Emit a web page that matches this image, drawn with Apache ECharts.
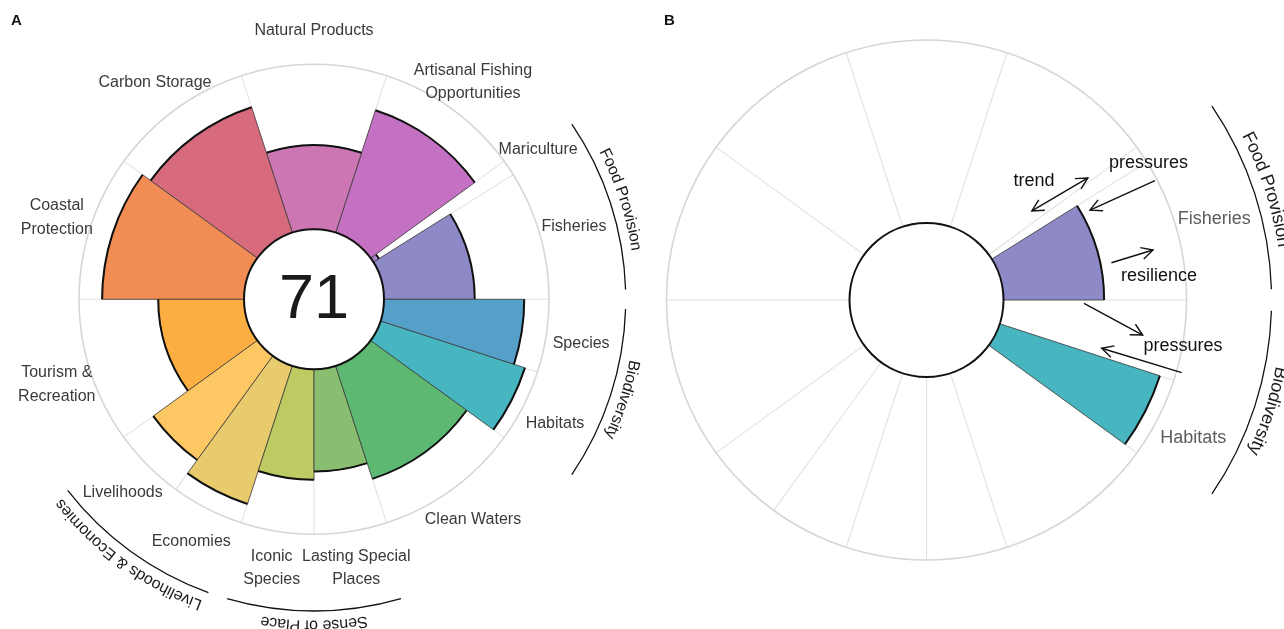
<!DOCTYPE html>
<html>
<head>
<meta charset="utf-8">
<script src="https://cdn.jsdelivr.net/npm/echarts@6/dist/echarts.min.js"></script>
<style>
  html, body { margin: 0; padding: 0; background: #ffffff; }
  #chart { width: 1284px; height: 629px; }
</style>
</head>
<body>
<div id="chart"></div>
<script>
// Goals in counter-clockwise order starting at 3 o'clock
const goals = ['Fisheries', 'Mariculture', 'Artisanal Fishing Opportunities', 'Natural Products',
  'Carbon Storage', 'Coastal Protection', 'Tourism & Recreation', 'Livelihoods', 'Economies',
  'Iconic Species', 'Lasting Special Places', 'Clean Waters', 'Habitats', 'Species'];
const goalLabels = ['Fisheries', 'Mariculture', 'Artisanal Fishing\nOpportunities', 'Natural Products',
  'Carbon Storage', 'Coastal\nProtection', 'Tourism &\nRecreation', 'Livelihoods', 'Economies',
  'Iconic\nSpecies', 'Lasting Special\nPlaces', 'Clean Waters', 'Habitats', 'Species'];
// Petal width = goal weight (sub-goals share their parent goal)
const weights = [0.89, 0.11, 1, 1, 1, 1, 1, 0.5, 0.5, 0.5, 0.5, 1, 0.5, 0.5];
const scores = [55, 4, 78, 51, 80, 86, 52, 78, 88, 67, 62, 72, 92, 85];
const petalColors = ['#8E89C7', '#A783C9', '#C471C3', '#CD76B4', '#D76A7D', '#F28C55', '#FDAE42',
  '#FDC763', '#E8CB6C', '#BECA62', '#89BD6F', '#5DB971', '#47B6C0', '#54A0C8'];
const indexScore = 71;

const groupNames = ['Food Provision', 'Livelihoods & Economies', 'Sense of Place', 'Biodiversity'];
const groupMembers = [['Fisheries', 'Mariculture'], ['Livelihoods', 'Economies'],
  ['Iconic Species', 'Lasting Special Places'], ['Habitats', 'Species']];

// Panel B: goals shown in the framework example
const highlighted = ['Fisheries', 'Habitats'];
const highlightedGroups = ['Food Provision', 'Biodiversity'];

const FONT = '"Liberation Sans", Arial, Helvetica, sans-serif';

// angular extent of each petal, in degrees along the angle axis
const totalW = weights.reduce((a, b) => a + b, 0);
const spans = [];
(function () {
  let acc = 0;
  weights.forEach(w => { spans.push([acc / totalW * 360, (acc + w) / totalW * 360]); acc += w; });
})();
const boundaries = spans.map(s => s[0]);

// annotation layout for panel B, in polar units [radius value, angle degrees]
const annoArrows = [
  { from: [33.3, 40.2], to: [68.5, 37.1], both: true },
  { from: [98.8, 27.6], to: [59.9, 28.8], both: false },
  { from: [61.0, 11.4], to: [84.7, 12.45], both: false },
  { from: [44.0, 358.8], to: [77.6, 350.8], both: false },
  { from: [102.9, 344.1], to: [57.2, 344.6], both: false }
];
const annoTexts = [
  { at: [45.6, 47.9], text: 'trend' },
  { at: [100.5, 31.7], text: 'pressures' },
  { at: [85.6, 5.9], text: 'resilience' },
  { at: [100.3, 349.8], text: 'pressures' }
];

const panels = [
  { polarIndex: 0, goals: goals.slice(), groups: groupNames.slice(), showIndex: true,
    labelSize: 16, labelColor: '#3a3a3a', lineHeight: 23.5, groupSize: 16, annotate: false },
  { polarIndex: 1, goals: highlighted, groups: highlightedGroups, showIndex: false,
    labelSize: 18, labelColor: '#5c5c5c', lineHeight: 26, groupSize: 18, annotate: true }
];

const measureCtx = document.createElement('canvas').getContext('2d');
function charWidths(str, font) {
  measureCtx.font = font;
  return Array.from(str).map(c => measureCtx.measureText(c).width);
}

// point at radius value v (can be outside 0..100) and angle deg of a polar system
function ringPoint(api, cs, v, deg) {
  const d = api.coord([100, deg]);
  const ux = d[0] - cs.cx, uy = d[1] - cs.cy;
  const len = Math.hypot(ux, uy);
  const rad = cs.r0 + (cs.r - cs.r0) * v / 100;
  return [cs.cx + ux / len * rad, cs.cy + uy / len * rad];
}
function screenAngle(cs, p) { return Math.atan2(p[1] - cs.cy, p[0] - cs.cx); }

// characters laid along a circle, read clockwise with their tops facing outward
function arcText(str, cx, cy, R, centerDeg, font, fill) {
  const ws = charWidths(str, font);
  const W = ws.reduce((a, b) => a + b, 0);
  const tc = centerDeg * Math.PI / 180;
  const ts = tc + W / (2 * R);
  const out = [];
  let off = 0;
  Array.from(str).forEach((ch, k) => {
    const th = ts - (off + ws[k] / 2) / R;
    off += ws[k];
    if (ch === ' ') return;
    out.push({
      type: 'text', x: cx + R * Math.cos(th), y: cy - R * Math.sin(th), rotation: th - Math.PI / 2,
      style: { text: ch, font: font, fill: fill, align: 'center', verticalAlign: 'middle' }
    });
  });
  return out;
}

function arrowEls(p1, p2, both) {
  const color = '#111111', lw = 1.4, headLen = 13, spread = 0.48;
  const els = [{ type: 'line', shape: { x1: p1[0], y1: p1[1], x2: p2[0], y2: p2[1] },
    style: { stroke: color, lineWidth: lw } }];
  const head = (tip, from) => {
    const ang = Math.atan2(tip[1] - from[1], tip[0] - from[0]);
    return { type: 'polyline', shape: { points: [
      [tip[0] - headLen * Math.cos(ang - spread), tip[1] - headLen * Math.sin(ang - spread)],
      [tip[0], tip[1]],
      [tip[0] - headLen * Math.cos(ang + spread), tip[1] - headLen * Math.sin(ang + spread)]
    ] }, style: { stroke: color, lineWidth: lw, fill: null } };
  };
  els.push(head(p2, p1));
  if (both) els.push(head(p1, p2));
  return els;
}

const series = [];
panels.forEach(panel => {
  const pi = panel.polarIndex;
  const shown = panel.goals.map(g => goals.indexOf(g));

  // grid: outer ring and sector boundaries
  series.push({
    type: 'custom', coordinateSystem: 'polar', polarIndex: pi, silent: true, z: 1,
    data: [[0, 0]],
    renderItem: function (params, api) {
      const cs = params.coordSys;
      const children = boundaries.map(b => {
        const a = ringPoint(api, cs, 0, b), c = ringPoint(api, cs, 100, b);
        return { type: 'line', shape: { x1: a[0], y1: a[1], x2: c[0], y2: c[1] },
          style: { stroke: '#e2e2e2', lineWidth: 1.1 } };
      });
      children.push({ type: 'circle', shape: { cx: cs.cx, cy: cs.cy, r: cs.r },
        style: { fill: null, stroke: '#d6d6d6', lineWidth: 1.6 } });
      return { type: 'group', children: children };
    }
  });

  // petals
  series.push({
    type: 'custom', coordinateSystem: 'polar', polarIndex: pi, silent: true, z: 2,
    data: shown.map(i => [scores[i], spans[i][0], spans[i][1], i]),
    renderItem: function (params, api) {
      const cs = params.coordSys;
      const score = api.value(0), a0 = api.value(1), a1 = api.value(2), idx = api.value(3);
      const p0 = api.coord([score, a0]);
      const p1 = api.coord([score, a1]);
      const q0 = api.coord([0, a0]);
      const r = Math.hypot(p0[0] - cs.cx, p0[1] - cs.cy);
      const r0 = Math.hypot(q0[0] - cs.cx, q0[1] - cs.cy);
      const s = screenAngle(cs, p1);
      let e = screenAngle(cs, p0);
      while (e <= s) e += Math.PI * 2;
      return { type: 'group', children: [
        { type: 'sector', shape: { cx: cs.cx, cy: cs.cy, r0: r0, r: r, startAngle: s, endAngle: e, clockwise: true },
          style: { fill: petalColors[idx], stroke: '#3c3c3c', lineWidth: 0.8 } },
        { type: 'arc', shape: { cx: cs.cx, cy: cs.cy, r: r, startAngle: s, endAngle: e, clockwise: true },
          style: { fill: null, stroke: '#111111', lineWidth: 2 } }
      ] };
    }
  });

  // hub, labels, goal groups and annotations
  series.push({
    type: 'custom', coordinateSystem: 'polar', polarIndex: pi, silent: true, z: 3,
    data: [[0, 0]],
    renderItem: function (params, api) {
      const cs = params.coordSys;
      const children = [];
      children.push({ type: 'circle', shape: { cx: cs.cx, cy: cs.cy, r: cs.r0 },
        style: { fill: '#ffffff', stroke: '#111111', lineWidth: 2 } });
      if (panel.showIndex) {
        children.push({ type: 'text', x: cs.cx, y: cs.cy + 1,
          style: { text: String(indexScore), font: '63px ' + FONT, fill: '#1a1a1a', align: 'center', verticalAlign: 'middle' } });
      }
      const lf = panel.labelSize + 'px ' + FONT;
      shown.forEach(i => {
        const mid = (spans[i][0] + spans[i][1]) / 2;
        const p = ringPoint(api, cs, 121.5, mid);
        children.push({ type: 'text', x: p[0], y: p[1] + 1.7,
          style: { text: goalLabels[i], font: lf, fill: panel.labelColor, align: 'center',
            verticalAlign: 'middle', lineHeight: panel.lineHeight } });
      });
      const gf = panel.groupSize + 'px ' + FONT;
      panel.groups.forEach(gName => {
        const members = groupMembers[groupNames.indexOf(gName)].map(m => goals.indexOf(m));
        const a0 = Math.min(...members.map(i => spans[i][0]));
        const a1 = Math.max(...members.map(i => spans[i][1]));
        const pStart = ringPoint(api, cs, 146.5, a0 + 1.8);
        const pEnd = ringPoint(api, cs, 146.5, a1 - 1.8);
        const R = Math.hypot(pStart[0] - cs.cx, pStart[1] - cs.cy);
        const s = screenAngle(cs, pEnd);
        let e = screenAngle(cs, pStart);
        while (e <= s) e += Math.PI * 2;
        children.push({ type: 'arc', shape: { cx: cs.cx, cy: cs.cy, r: R, startAngle: s, endAngle: e, clockwise: true },
          style: { fill: null, stroke: '#111111', lineWidth: 1.3 } });
        const pt = ringPoint(api, cs, 155, (a0 + a1) / 2);
        const RT = Math.hypot(pt[0] - cs.cx, pt[1] - cs.cy);
        arcText(gName, cs.cx, cs.cy, RT, (a0 + a1) / 2, gf, '#1a1a1a').forEach(t => children.push(t));
      });
      if (panel.annotate) {
        annoArrows.forEach(a => {
          arrowEls(ringPoint(api, cs, a.from[0], a.from[1]), ringPoint(api, cs, a.to[0], a.to[1]), a.both)
            .forEach(el => children.push(el));
        });
        annoTexts.forEach(t => {
          const p = ringPoint(api, cs, t.at[0], t.at[1]);
          children.push({ type: 'text', x: p[0], y: p[1],
            style: { text: t.text, font: '18px ' + FONT, fill: '#111111', align: 'center', verticalAlign: 'middle' } });
        });
      }
      return { type: 'group', children: children };
    }
  });
});

const chart = echarts.init(document.getElementById('chart'), null, { renderer: 'canvas' });
chart.setOption({
  animation: false,
  backgroundColor: '#ffffff',
  polar: [
    { center: [314, 299.3], radius: [70, 235] },
    { center: [926.5, 300], radius: [77, 260] }
  ],
  angleAxis: [
    { polarIndex: 0, type: 'value', min: 0, max: 360, startAngle: 0, clockwise: false, show: false },
    { polarIndex: 1, type: 'value', min: 0, max: 360, startAngle: 0, clockwise: false, show: false }
  ],
  radiusAxis: [
    { polarIndex: 0, type: 'value', min: 0, max: 100, show: false },
    { polarIndex: 1, type: 'value', min: 0, max: 100, show: false }
  ],
  graphic: [
    { type: 'text', left: 11, top: 13, style: { text: 'A', font: 'bold 15px ' + FONT, fill: '#111111' } },
    { type: 'text', left: 664, top: 13, style: { text: 'B', font: 'bold 15px ' + FONT, fill: '#111111' } }
  ],
  series: series
});
</script>
</body>
</html>
